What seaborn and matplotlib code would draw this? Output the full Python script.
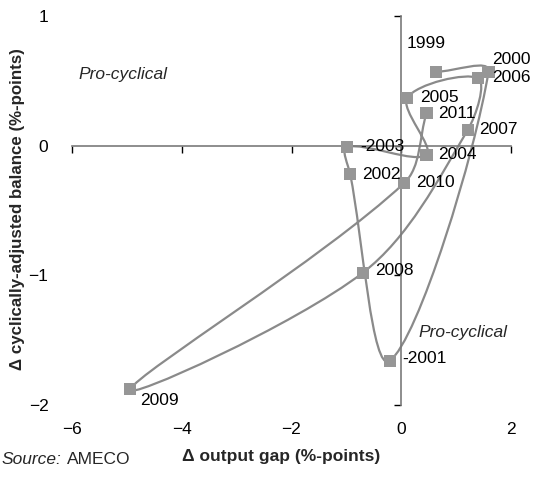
import numpy as np
import pandas as pd
import seaborn as sns
import matplotlib.pyplot as plt
from matplotlib.path import Path
from matplotlib.patches import PathPatch

# data (1999..2011, connected in year order)
years = [1999, 2000, 2001, 2002, 2003, 2004, 2005, 2006, 2007, 2008, 2009, 2010, 2011]
output_gap = [0.64, 1.59, -0.21, -0.93, -0.99, 0.46, 0.11, 1.40, 1.21, -0.70, -4.94, 0.05, 0.46]
balance = [0.57, 0.57, -1.66, -0.22, -0.01, -0.07, 0.37, 0.52, 0.12, -0.98, -1.88, -0.29, 0.25]
year_labels = ["1999", "2000", "-2001", "2002", "-2003", "2004", "2005",
               "2006", "2007", "2008", "2009", "2010", "2011"]
x_ticks = [-6, -4, -2, 0, 2]
y_ticks = [-2, -1, 0, 1]

# label placement (pixels from the marker)
label_offsets = [(-30, 28), (4, 12), (13, 2), (12, 0), (13, 0), (12, 0), (13, 0),
                 (14, 1), (11, 1), (12, 2), (10, -11), (12, 1), (12, 0)]

sns.set_style("white")
plt.rcParams["font.family"] = ["Liberation Sans", "DejaVu Sans"]

df = pd.DataFrame({"year": years, "gap": output_gap, "bal": balance})


def smooth_path(ax, x, y):
    """Bezier path through the points, Excel-like smoothed line.
    Tangent arms are scaled by segment length (worked out in screen space)."""
    pts = ax.transData.transform(np.column_stack([x, y]))
    n = len(pts)
    verts = [pts[0]]
    codes = [Path.MOVETO]
    for i in range(n - 1):
        p0 = pts[max(i - 1, 0)]
        p1, p2 = pts[i], pts[i + 1]
        p3 = pts[min(i + 2, n - 1)]
        d01 = np.linalg.norm(p1 - p0)
        d12 = np.linalg.norm(p2 - p1)
        d23 = np.linalg.norm(p3 - p2)
        c1 = p1 + (p2 - p0) * d12 / (3 * (d01 + d12))
        c2 = p2 - (p3 - p1) * d12 / (3 * (d12 + d23))
        verts += [c1, c2, p2]
        codes += [Path.CURVE4] * 3
    verts = ax.transData.inverted().transform(np.array(verts))
    return Path(verts, codes)


W, H = 541, 478
fig = plt.figure(figsize=(W / 100, H / 100), dpi=100)
pos = [72 / W, 1 - 405 / H, (511 - 72) / W, (405 - 16) / H]

# axes only for the tick labels (Excel "low" position)
ax_lab = fig.add_axes(pos)
ax_lab.set_xlim(-6, 2)
ax_lab.set_ylim(-2, 1)
ax_lab.set_xticks(x_ticks)
ax_lab.set_yticks(y_ticks)
for s in ax_lab.spines.values():
    s.set_visible(False)
ax_lab.tick_params(length=0, labelsize=12.5, colors="black")
ax_lab.tick_params(axis="x", pad=12)
ax_lab.tick_params(axis="y", pad=17)

ax = fig.add_axes(pos)
ax.patch.set_alpha(0)
ax.set_xlim(-6, 2)
ax.set_ylim(-2, 1)

ax.add_patch(PathPatch(smooth_path(ax, df["gap"], df["bal"]), facecolor="none",
                       edgecolor="#8a8a8a", lw=1.6, zorder=2))
sns.scatterplot(data=df, x="gap", y="bal", marker="s", s=75, color="#969696",
                edgecolor="none", linewidth=0, zorder=3, legend=False, ax=ax)

for lab, gx, by, (dx, dy) in zip(year_labels, output_gap, balance, label_offsets):
    ax.annotate(lab, (gx, by), xytext=(dx, dy), textcoords="offset pixels",
                ha="left", va="center", fontsize=12.5, color="black",
                annotation_clip=False, zorder=4)

ax.set_xlim(-6, 2)
ax.set_ylim(-2, 1)
ax.set_xticks(x_ticks)
ax.set_yticks(y_ticks)
ax.spines["left"].set_position(("data", 0))
ax.spines["bottom"].set_position(("data", 0))
ax.spines["top"].set_visible(False)
ax.spines["right"].set_visible(False)
for side in ["left", "bottom"]:
    ax.spines[side].set_color("#7a7a7a")
    ax.spines[side].set_linewidth(1.2)
ax.tick_params(direction="out", length=5, width=1, color="black",
               labelbottom=False, labelleft=False, bottom=True, left=True)
ax.set_xlabel("")
ax.set_ylabel("")

ax.text(-5.88, 0.55, "Pro-cyclical", style="italic", fontsize=12.5,
        ha="left", va="center")
ax.text(0.31, -1.44, "Pro-cyclical", style="italic", fontsize=12.5,
        ha="left", va="center")

fig.text(18 / W, 1 - 209 / H, "\u0394 cyclically-adjusted balance (%-points)",
         rotation=90, ha="center", va="center", fontsize=12.2, fontweight="bold")
fig.text(281 / W, 1 - 457 / H, "\u0394 output gap (%-points)",
         ha="center", va="center", fontsize=12.5, fontweight="bold")
fig.text(2 / W, 1 - 459 / H, "Source:", style="italic", fontsize=12.5,
         ha="left", va="center")
fig.text(67 / W, 1 - 459 / H, "AMECO", fontsize=12.5, ha="left", va="center")

fig.savefig("out.png", dpi=100)
